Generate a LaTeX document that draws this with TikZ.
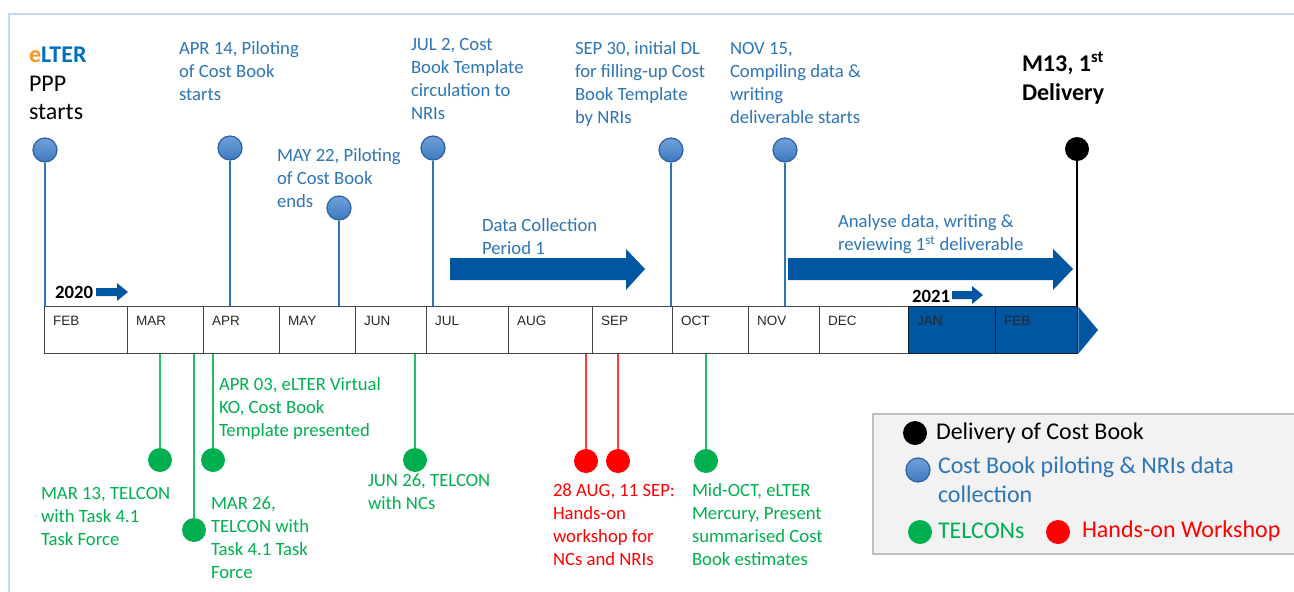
\documentclass[tikz,border=0pt]{standalone}
\usepackage{fontspec}
\setmainfont{Carlito}
\newfontfamily\arialf{Liberation Sans}
\definecolor{txtblue}{RGB}{46,117,182}
\definecolor{ltblue}{RGB}{0,112,192}
\definecolor{eorange}{RGB}{247,148,29}
\definecolor{barblue}{RGB}{0,86,160}
\definecolor{circtop}{RGB}{112,160,218}
\definecolor{circbot}{RGB}{62,122,192}
\definecolor{circedge}{RGB}{44,96,160}
\definecolor{tgreen}{RGB}{0,176,80}
\definecolor{lgreen}{RGB}{40,190,100}
\definecolor{tred}{RGB}{255,0,0}
\definecolor{lred}{RGB}{255,60,60}
\definecolor{frameblue}{RGB}{197,217,241}
\definecolor{legfill}{RGB}{242,242,242}
\definecolor{legedge}{RGB}{191,191,191}
\definecolor{celledge}{RGB}{70,70,70}
\definecolor{darkedge}{RGB}{20,30,50}
\definecolor{monthtxt}{RGB}{40,40,40}
\begin{document}
\begin{tikzpicture}[x=1pt,y=-1pt,
  lbl/.style={font=\fontsize{18.7}{23}\selectfont, align=left, inner sep=0pt, outer sep=0pt, anchor=north west},
  biglbl/.style={font=\fontsize{24}{28.5}\selectfont, align=left, inner sep=0pt, outer sep=0pt, anchor=north west},
  leglbl/.style={font=\fontsize{24}{29}\selectfont, align=left, inner sep=0pt, outer sep=0pt},
  month/.style={font=\arialf\fontsize{13.5}{15}\selectfont, inner sep=0pt, anchor=west, text=monthtxt},
  cell/.style={line width=1.4pt, minimum height=47pt, inner sep=0pt, anchor=north west},
  dotbase/.style={circle, minimum size=24pt, inner sep=0pt},
  bdot/.style={dotbase, top color=circtop, bottom color=circbot, draw=circedge, line width=1.2pt},
  kdot/.style={dotbase, fill=black},
  gdot/.style={dotbase, fill=tgreen},
  rdot/.style={dotbase, fill=tred},
  bline/.style={draw=txtblue, line width=1.3pt},
  kline/.style={draw=black, line width=1.3pt},
  gline/.style={draw=lgreen, line width=1.3pt},
  rline/.style={draw=lred, line width=1.3pt},
  bigarrow/.style={fill=barblue},
]
\useasboundingbox (0,0) rectangle (1294,592);
\fill[white] (0,0) rectangle (1294,592);
% frame
\draw[frameblue, line width=2pt] (9,600) -- (9,14) -- (1300,14);

% timeline cells
\foreach \a/\b/\t/\n/\fc/\dc in {44/127/FEB/m1/white/celledge, 127/203/MAR/m2/white/celledge, 203/279/APR/m3/white/celledge,
  279/355/MAY/m4/white/celledge, 355/426/JUN/m5/white/celledge, 426/508/JUL/m6/white/celledge, 508/592/AUG/m7/white/celledge,
  592/672/SEP/m8/white/celledge, 672/748/OCT/m9/white/celledge, 748/819/NOV/m10/white/celledge, 819/908/DEC/m11/white/celledge,
  908/995/JAN/m12/barblue/darkedge, 995/1077/FEB/m13/barblue/darkedge}{
  \node[cell, draw=\dc, fill=\fc, minimum width={(\b-\a)*1pt}] (\n) at (\a,306) {};
  \node[month] (\n l) at ([shift={(9,15)}]\n.north west) {\t};
}
\fill[barblue] ([yshift=-0.7pt]m13.north east) -- (1098,330) -- ([yshift=0.7pt]m13.south east) -- cycle;

% year arrows
\node[font=\bfseries\fontsize{18.7}{23}\selectfont, inner sep=0pt, anchor=west] (y20) at (55,292) {2020};
\fill[barblue] (96,288) -- (117,288) -- (117,283) -- (128,292) -- (117,301) -- (117,296) -- (96,296) -- cycle;
\node[font=\bfseries\fontsize{18.7}{23}\selectfont, inner sep=0pt, anchor=west] (y21) at (912,296) {2021};
\fill[barblue] (952,291) -- (972,291) -- (972,286) -- (983,295) -- (972,304) -- (972,299) -- (952,299) -- cycle;

% big arrows
\fill[bigarrow] (450,258) -- (626,258) -- (626,249) -- (645,269) -- (626,290) -- (626,280) -- (450,280) -- cycle;
\fill[bigarrow] (788,258) -- (1053,258) -- (1053,249) -- (1073,269) -- (1053,290) -- (1053,280) -- (788,280) -- cycle;
\node[lbl, text=txtblue] (dc) at (482,219) {Data Collection\\Period 1};
\node[lbl, text=txtblue] (an) at (838,215) {Analyse data, writing \&\\reviewing 1\textsuperscript{st} deliverable};

% top milestones
\node[bdot] (p0) at (45,150) {};
\node[bdot] (p1) at (230,148) {};
\node[bdot] (p2) at (339,208) {};
\node[bdot] (p3) at (433,148) {};
\node[bdot] (p4) at (671,150) {};
\node[bdot] (p5) at (785,150) {};
\node[kdot] (dl) at (1077,149) {};
\draw[bline] (p0) -- (p0 |- m1.north);
\draw[bline] (p1) -- (p1 |- m3.north);
\draw[bline] (p2) -- (p2 |- m4.north);
\draw[bline] (p3) -- (p3 |- m6.north);
\draw[bline] (p4) -- (p4 |- m8.north);
\draw[bline] (p5) -- (p5 |- m10.north);
\draw[kline] (dl) -- (dl |- m13.north);

\node[biglbl] (t0) at (29,47) {\textbf{\textcolor{eorange}{e}\textcolor{ltblue}{LTER}}\\PPP\\starts};
\node[lbl, text=txtblue] (t1) at (179,42) {APR 14, Piloting\\of Cost Book\\starts};
\node[lbl, text=txtblue] (t2) at (277,149) {MAY 22, Piloting\\of Cost Book\\ends};
\node[lbl, text=txtblue] (t3) at (411,38) {JUL 2, Cost\\Book Template\\circulation to\\NRIs};
\node[lbl, text=txtblue] (t4) at (575,42) {SEP 30, initial DL\\for filling-up Cost\\Book Template\\by NRIs};
\node[lbl, text=txtblue] (t5) at (730,42) {NOV 15,\\Compiling data \&\\writing\\deliverable starts};
\node[biglbl, font=\bfseries\fontsize{24}{29}\selectfont] (t6) at (1022,52) {M13, 1\textsuperscript{st}\\Delivery};

% bottom milestones
\node[gdot] (g1) at (160,460) {};
\node[gdot] (g2) at (194,530) {};
\node[gdot] (g3) at (213,460) {};
\node[gdot] (g4) at (415,460) {};
\node[rdot] (r1) at (586,461) {};
\node[rdot] (r2) at (618,461) {};
\node[gdot] (g5) at (706,461) {};
\draw[gline] (g1 |- m2.south) -- (g1);
\draw[gline] (g2 |- m2.south) -- (g2);
\draw[gline] (g3 |- m3.south) -- (g3);
\draw[gline] (g4 |- m5.south) -- (g4);
\draw[rline] (r1 |- m7.south) -- (r1);
\draw[rline] (r2 |- m8.south) -- (r2);
\draw[gline] (g5 |- m9.south) -- (g5);

\node[lbl, text=tgreen] (b1) at (41,487) {MAR 13, TELCON\\with Task 4.1\\Task Force};
\node[lbl, text=tgreen] (b2) at (211,497) {MAR 26,\\TELCON with\\Task 4.1 Task\\Force};
\node[lbl, text=tgreen] (b3) at (219,378) {APR 03, eLTER Virtual\\KO, Cost Book\\Template presented};
\node[lbl, text=tgreen] (b4) at (368,474) {JUN 26, TELCON\\with NCs};
\node[lbl, text=tred] (b5) at (553,484) {28 AUG, 11 SEP:\\Hands-on\\workshop for\\NCs and NRIs};
\node[lbl, text=tgreen] (b6) at (692,484) {Mid-OCT, eLTER\\Mercury, Present\\summarised Cost\\Book estimates};

% legend
\draw[fill=legfill, draw=legedge, line width=1.5pt] (873,414) rectangle (1300,554);
\node[kdot] (lk) at (915,433) {};
\node[leglbl, anchor=west] (lkt) at (936,433) {Delivery of Cost Book};
\node[bdot] (lb) at (918,470) {};
\node[leglbl, anchor=north west, text=txtblue] (lbt) at (938,457) {Cost Book piloting \& NRIs data\\collection};
\node[gdot] (lg) at (920,532) {};
\node[leglbl, anchor=west, text=tgreen] (lgt) at (938,531) {TELCONs};
\node[rdot] (lr) at (1058,532) {};
\node[leglbl, anchor=west, text=tred] (lrt) at (1082,531) {Hands-on Workshop};
\end{tikzpicture}
\end{document}
